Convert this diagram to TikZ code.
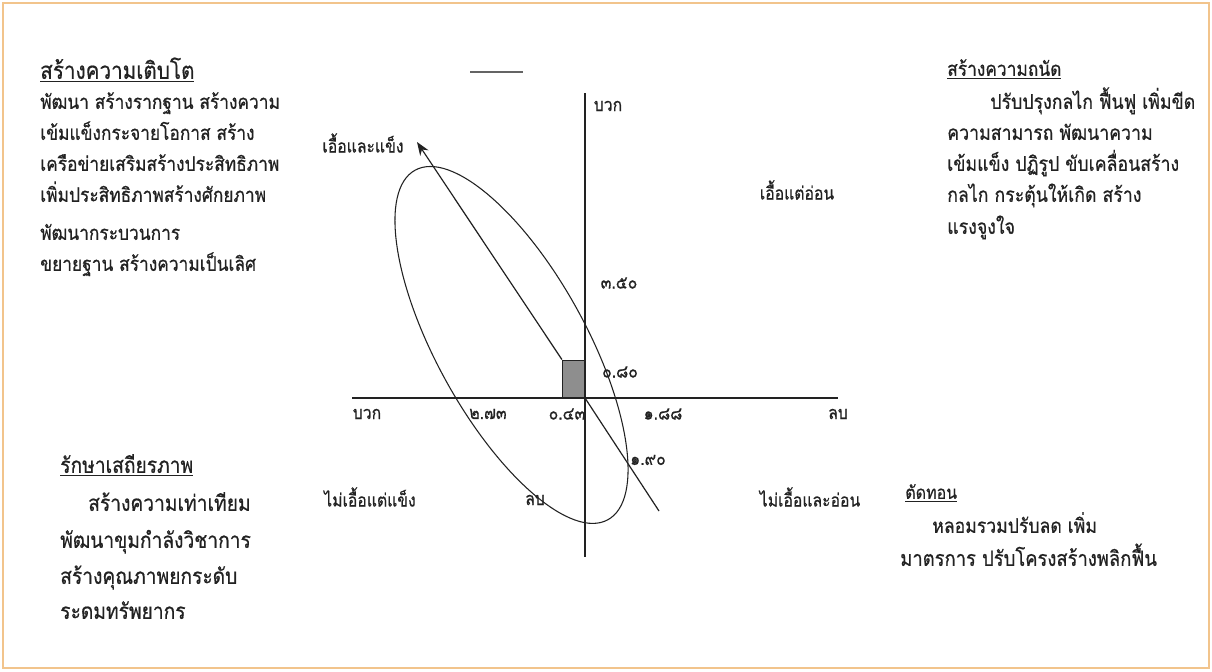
\documentclass[tikz,border=0pt]{standalone}
\usepackage{fontspec}
\usepackage{graphicx}
\newfontfamily\thai[Script=Thai,FakeBold=0.6]{Loma}
\usetikzlibrary{arrows.meta}
\definecolor{framec}{HTML}{F2C48C}
\definecolor{ink}{HTML}{222222}
\definecolor{boxgray}{HTML}{8E8E8E}
\newcommand\tallt[1]{\scalebox{1}[1.15]{#1}}
\newcommand\ul[1]{\underline{#1}}
\begin{document}
\begin{tikzpicture}[x=0.75pt,y=-0.75pt,
  txt/.style={font=\thai\fontsize{13}{15}\selectfont, text=ink, inner sep=0pt, anchor=mid west},
  txtb/.style={txt, font=\thai\fontsize{14.4}{16}\selectfont},
  txtr/.style={txt, font=\thai\fontsize{13.3}{15}\selectfont},
  lbl/.style={font=\thai\fontsize{11.8}{13}\selectfont, text=ink, inner sep=0pt},
  axis/.style={draw=ink, line width=1.6pt},
  vaxis/.style={draw=ink, line width=0.8pt}]
\useasboundingbox (0,0) rectangle (1212,671);
\fill[white] (0,0) rectangle (1212,671);
\draw[framec, line width=2pt] (3,3) rectangle (1209,668);

% short line at top
\coordinate (t1) at (470,72); \coordinate (t2) at (523,72);
\draw[ink!70, line width=1pt] (t1) -- (t2);

% axes
\coordinate (o) at (585,398);
\coordinate (vtop) at (585,93); \coordinate (vbot) at (585,557);
\coordinate (hl) at (352,398); \coordinate (hr) at (838,398);
\draw[vaxis] (vtop) -- (vbot);
\draw[axis] (hl) -- (hr);

% ellipse
\coordinate (ec) at (511.5,345);
\draw[ink, line width=0.8pt, rotate around={-61.1:(ec)}] (ec) ellipse (199.6 and 74.7);

% gray square
\node[draw=ink, fill=boxgray, line width=0.8pt, minimum width=16.5pt, minimum height=28pt, inner sep=0pt, anchor=south east] (sq) at (o) {};

% arrow
\coordinate (a0) at (sq.north west);
\coordinate (atip) at (417,142);
\coordinate (aend) at (659,511);
\draw[ink, line width=0.9pt, -{Stealth[length=10pt,width=7.5pt]}] (a0) -- (atip);
\draw[ink, line width=0.9pt] (o) -- (aend);

% axis labels
\node[lbl] (bk1) at (608,106) {\tallt{บวก}};
\node[lbl] (bk2) at (367,414) {\tallt{บวก}};
\node[lbl] (lb1) at (838,414) {\tallt{ลบ}};
\node[lbl] (lb2) at (535,500) {\tallt{ลบ}};
\node[lbl] (n1) at (619,283) {\tallt{๓.๕๐}};
\node[lbl] (n2) at (620,372) {\tallt{๐.๘๐}};
\node[lbl] (n3) at (488,414) {\tallt{๒.๗๓}};
\node[lbl] (n4) at (567,414) {\tallt{๐.๔๓}};
\node[lbl] (n5) at (663,414) {\tallt{๑.๘๘}};
\node[lbl] (n6) at (648,460) {\tallt{๑.๙๐}};

% quadrant labels
\node[lbl] (q1) at (363,143) {\tallt{เอื้อและแข็ง}};
\node[lbl] (q2) at (797,190) {\tallt{เอื้อแต่อ่อน}};
\node[lbl] (q3) at (370,497) {\tallt{ไม่เอื้อแต่แข็ง}};
\node[lbl] (q4) at (810,497) {\tallt{ไม่เอื้อและอ่อน}};

% top-left block
\node[txt, font=\thai\fontsize{15.5}{17}\selectfont] (h1) at (40,76) {\tallt{\ul{สร้างความเติบโต}}};
\node[txt] (l11) at (40,106) {\tallt{พัฒนา สร้างรากฐาน สร้างความ}};
\node[txt] (l12) at (40,137) {\tallt{เข้มแข็งกระจายโอกาส สร้าง}};
\node[txt] (l13) at (40,168) {\tallt{เครือข่ายเสริมสร้างประสิทธิภาพ}};
\node[txt] (l14) at (40,199) {\tallt{เพิ่มประสิทธิภาพสร้างศักยภาพ}};
\node[txt] (l15) at (40,237) {\tallt{พัฒนากระบวนการ}};
\node[txt] (l16) at (40,268) {\tallt{ขยายฐาน สร้างความเป็นเลิศ}};

% top-right block
\node[txt] (h2) at (947,73) {\tallt{\ul{สร้างความถนัด}}};
\node[txtr] (l21) at (990,106) {\tallt{ปรับปรุงกลไก ฟื้นฟู เพิ่มขีด}};
\node[txtr] (l22) at (947,137) {\tallt{ความสามารถ พัฒนาความ}};
\node[txtr] (l23) at (947,168) {\tallt{เข้มแข็ง ปฏิรูป ขับเคลื่อนสร้าง}};
\node[txtr] (l24) at (947,199) {\tallt{กลไก กระตุ้นให้เกิด สร้าง}};
\node[txtr] (l25) at (947,231) {\tallt{แรงจูงใจ}};

% bottom-left block
\node[txtb] (h3) at (60,470) {\tallt{\ul{รักษาเสถียรภาพ}}};
\node[txtb] (l31) at (88,508) {\tallt{สร้างความเท่าเทียม}};
\node[txtb] (l32) at (60,545) {\tallt{พัฒนาขุมกำลังวิชาการ}};
\node[txtb] (l33) at (60,581) {\tallt{สร้างคุณภาพยกระดับ}};
\node[txtb] (l34) at (60,616) {\tallt{ระดมทรัพยากร}};

% bottom-right block
\node[txt, font=\thai\fontsize{12}{14}\selectfont] (h4) at (905,496) {\tallt{\ul{ตัดทอน}}};
\node[txt, font=\thai\fontsize{13.2}{15}\selectfont] (l41) at (932,530) {\tallt{หลอมรวมปรับลด เพิ่ม}};
\node[txt, font=\thai\fontsize{13.8}{15}\selectfont] (l42) at (900,563) {\tallt{มาตรการ ปรับโครงสร้างพลิกฟื้น}};
\end{tikzpicture}
\end{document}
